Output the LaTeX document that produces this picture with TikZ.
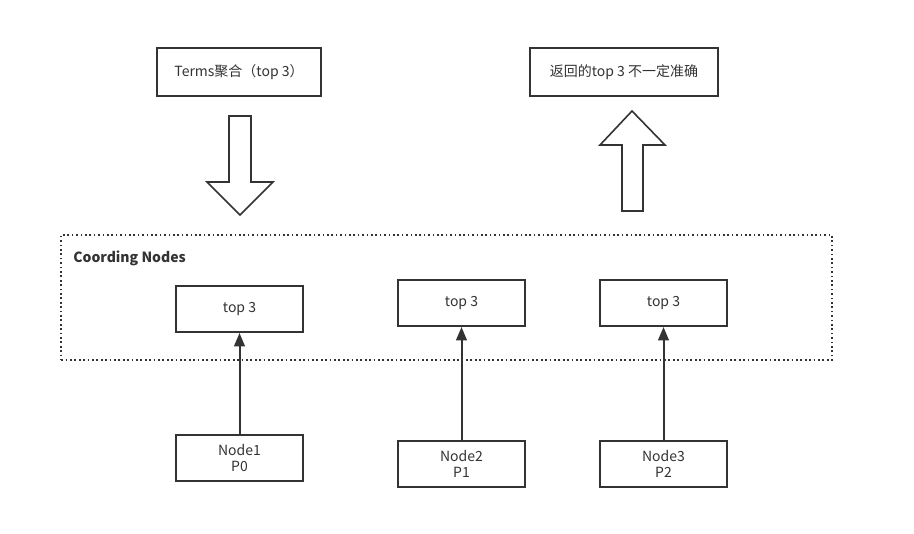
\documentclass[tikz,border=0pt]{standalone}
\usepackage{fontspec}
\setmainfont{Noto Sans CJK SC}
\usetikzlibrary{arrows.meta}
\definecolor{ink}{HTML}{333333}
\tikzset{
  px/.style={x=0.75pt,y=-0.75pt},
  box/.style={draw=ink,line width=1.5pt,fill=white,text=ink,font=\fontsize{10.5}{12.5}\selectfont,inner sep=0pt,align=center},
  conn/.style={draw=ink,line width=1.5pt,-{Triangle[length=10pt,width=8pt]}},
  bigarrow/.style={draw=ink,line width=1.2pt,fill=white,line join=miter}
}
\begin{document}
\begin{tikzpicture}[px]
\useasboundingbox (0,0) rectangle (914,533);
% top boxes
\node[box,minimum width=123pt,minimum height=36pt] (terms) at (239,72) {Terms聚合（top 3）};
\node[box,minimum width=141pt,minimum height=36pt] (ret) at (624,72) {返回的top 3 不一定准确};
% big arrows
\draw[bigarrow] (229,116) -- (251,116) -- (251,182) -- (273,182) -- (240,215) -- (207,182) -- (229,182) -- cycle;
\draw[bigarrow] (622,211) -- (643,211) -- (643,145) -- (665,145) -- (632,111) -- (600,145) -- (622,145) -- cycle;
% container
\node[draw=ink,line width=1.3pt,dotted,minimum width=578pt,minimum height=94pt,inner sep=0pt] (cont) at (446.5,297.5) {};
\node[anchor=west,text=ink,font=\bfseries\fontsize{10.5}{12}\selectfont,inner sep=0pt] (title) at (73,258) {Coording Nodes};
% top3 boxes
\node[box,minimum width=95pt,minimum height=34.5pt] (t1) at (239.5,309) {top 3};
\node[box,minimum width=95pt,minimum height=34.5pt] (t2) at (461.5,303) {top 3};
\node[box,minimum width=95pt,minimum height=34.5pt] (t3) at (663.5,303) {top 3};
% node boxes
\node[box,minimum width=95pt,minimum height=34.5pt] (n1) at (239.5,458) {Node1\\P0};
\node[box,minimum width=95pt,minimum height=34.5pt] (n2) at (461.5,464) {Node2\\P1};
\node[box,minimum width=95pt,minimum height=34.5pt] (n3) at (663.5,464) {Node3\\P2};
% connectors
\draw[conn] (n1.north) -- (t1.south);
\draw[conn] (n2.north) -- (t2.south);
\draw[conn] (n3.north) -- (t3.south);
\end{tikzpicture}
\end{document}
